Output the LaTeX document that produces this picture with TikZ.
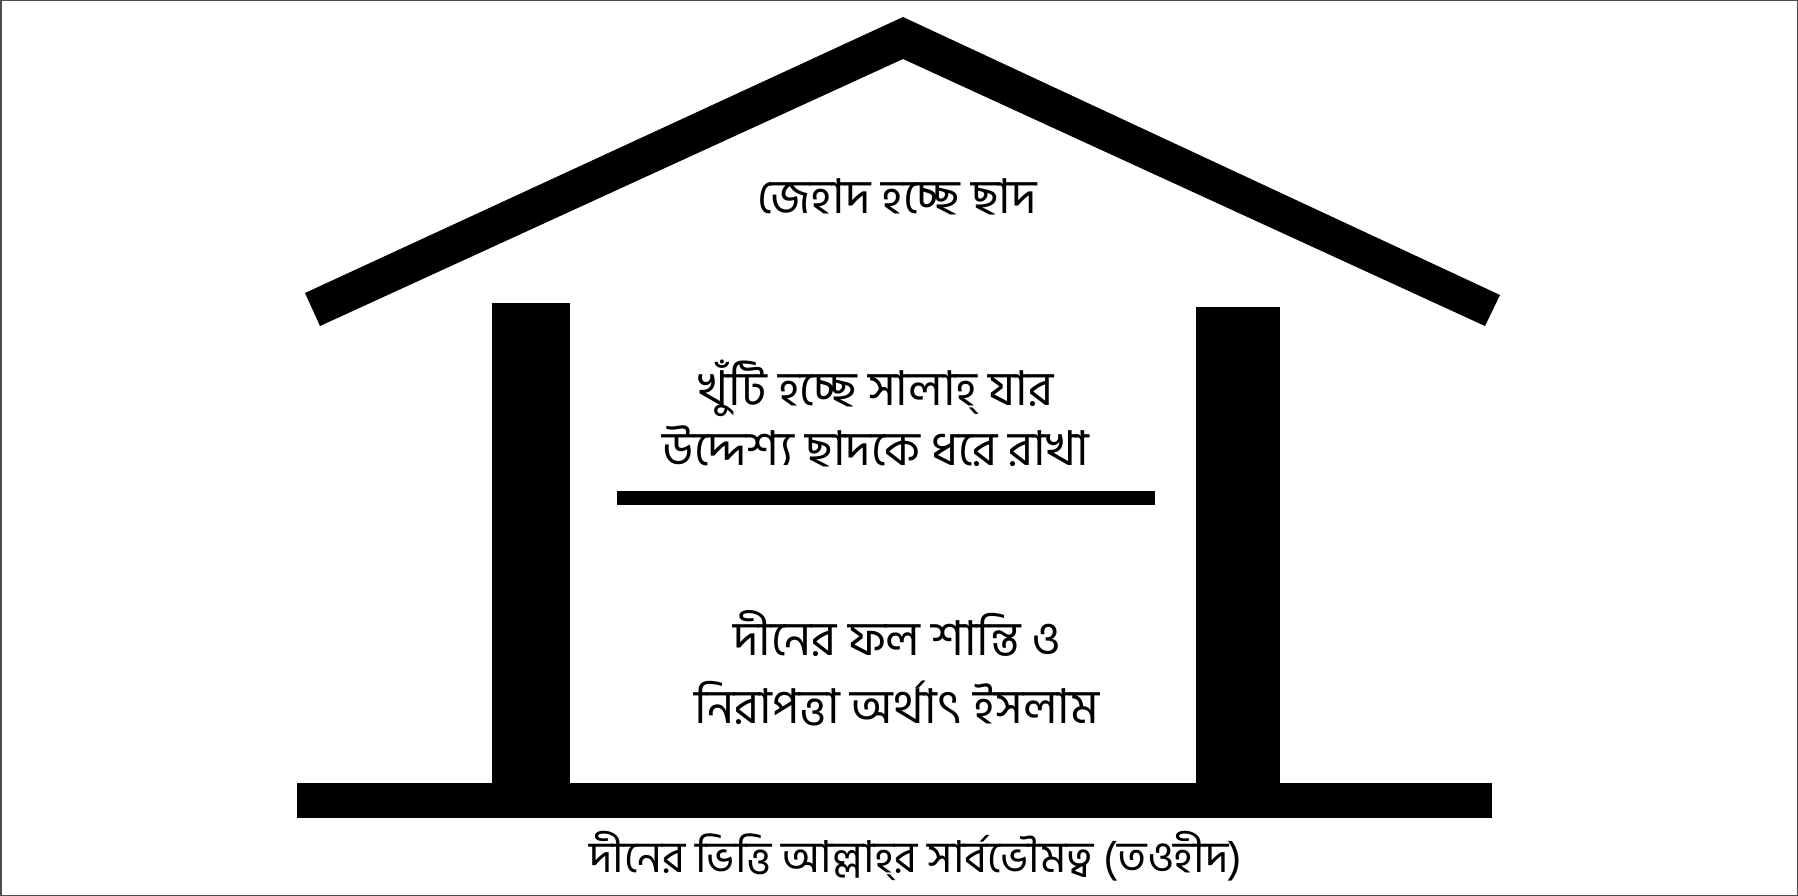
\documentclass[tikz,border=0pt]{standalone}
\usepackage{fontspec}
\newfontfamily\bnfont[Script=Bengali]{Hind Siliguri}
\begin{document}
\begin{tikzpicture}[x=1pt,y=-1pt,
  solid part/.style={fill=black,draw=none},
  label text/.style={font=\bnfont\fontsize{48}{60}\selectfont,align=center,inner sep=0pt,text=black}]
\useasboundingbox (0,0) rectangle (1798,896);
\draw[line width=1.5pt,draw=black!70] (0.75,0.75) rectangle (1797.25,895.25);
% roof
\fill[solid part] (305,293) -- (903,17) -- (1500,295) -- (1485,326) -- (903,59) -- (320,326) -- cycle;
% pillars
\fill[solid part] (492,303) rectangle (570,783);
\fill[solid part] (1196,307) rectangle (1280,783);
% foundation
\fill[solid part] (297,783) rectangle (1492,818);
% middle beam
\fill[solid part] (617,491) rectangle (1155,505);
% texts
\node[label text] (roof) at (897,197) {জেহাদ হচ্ছে ছাদ};
\node[label text] (pillar) at (876,413) {খুঁটি হচ্ছে সালাহ্ যার\\উদ্দেশ্য ছাদকে ধরে রাখা};
\node[label text,font=\bnfont\fontsize{48}{68}\selectfont] (fruit) at (897,668) {দীনের ফল শান্তি ও\\নিরাপত্তা অর্থাৎ ইসলাম};
\node[label text,font=\bnfont\fontsize{44}{54}\selectfont] (base) at (916,856) {দীনের ভিত্তি আল্লাহ্‌র সার্বভৌমত্ব (তওহীদ)};
\end{tikzpicture}
\end{document}
